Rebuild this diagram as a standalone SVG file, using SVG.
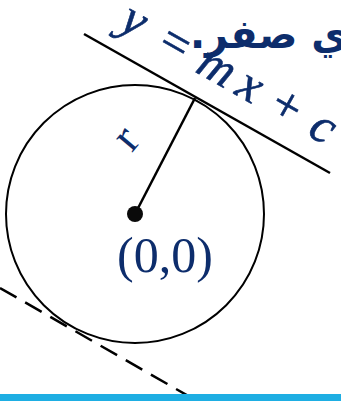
<svg xmlns="http://www.w3.org/2000/svg" width="341" height="401" viewBox="0 0 341 401">
  <style>
    .ln { stroke: #000; stroke-width: 2.5; fill: none; stroke-linecap: butt; }
    .lbl { fill: #0d2d6c; }
    .serif { font-family: "Liberation Serif", "Times New Roman", serif; }
  </style>
  <rect x="0" y="0" width="341" height="401" fill="#fff"/>
  <g id="arabic-text">
    <text class="lbl" x="348" y="48" direction="rtl" text-anchor="start" font-family="DejaVu Sans, sans-serif" font-weight="bold" font-size="40">ي صفر.</text>
  </g>
  <g id="circle">
    <circle cx="135" cy="214" r="129" fill="none" stroke="#000" stroke-width="2"/>
  </g>
  <g id="connectors">
    <line class="ln" x1="84" y1="34" x2="330" y2="173"/>
    <line class="ln" x1="135" y1="214" x2="195" y2="98"/>
    <line class="ln" x1="0" y1="288" x2="197" y2="401" stroke-dasharray="19 10"/>
  </g>
  <g id="center">
    <circle cx="135" cy="214" r="8" fill="#0a0a0a"/>
    <text class="lbl serif" x="165" y="272" font-size="50" text-anchor="middle">(0,0)</text>
  </g>
  <g id="radius-label" transform="translate(129,141) rotate(-50)">
    <text class="lbl serif" x="0" y="10" font-size="46" text-anchor="middle">r</text>
  </g>
  <g id="equation" transform="translate(133,23) rotate(29.5)">
    <text class="lbl serif" y="12" font-size="50" text-anchor="middle" stroke="#0d2d6c" stroke-width="0.6">
      <tspan x="0" font-style="italic">y</tspan><tspan x="47">=</tspan><tspan x="95" font-style="italic">m</tspan><tspan x="133" font-style="italic">x</tspan><tspan x="175">+</tspan><tspan x="217" font-style="italic">c</tspan>
    </text>
  </g>
  <rect x="0" y="394" width="341" height="7" fill="#1eaee3"/>
</svg>
